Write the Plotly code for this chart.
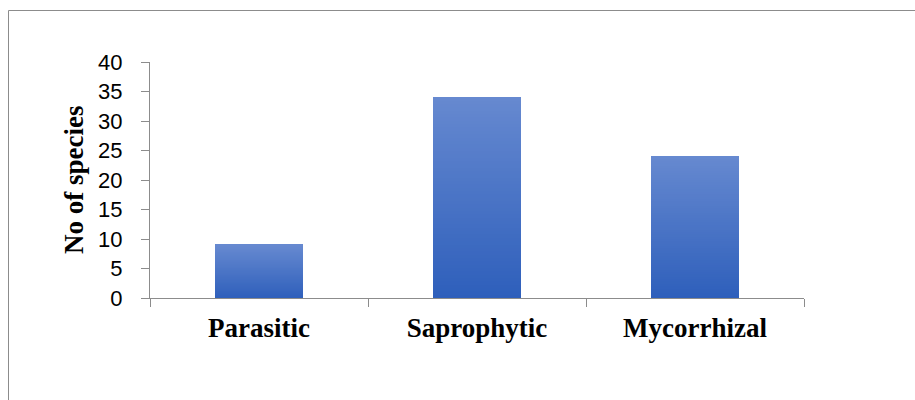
import plotly.graph_objects as go

# Data
categories = ["Parasitic", "Saprophytic", "Mycorrhizal"]
species_counts = [9, 34, 24]
y_tick_values = [0, 5, 10, 15, 20, 25, 30, 35, 40]

W, H = 915, 400
ML, MR, MT, MB = 150, 111, 62, 102
PW, PH = W - ML - MR, H - MT - MB

# vertical gradient: light top -> darker bottom, built from thin stacked slices
TOP = (0x66, 0x89, 0xD0)
BOT = (0x2E, 0x5F, 0xBB)
N = 60


def mix(t):
    r = tuple(round(BOT[k] + (TOP[k] - BOT[k]) * t) for k in range(3))
    return "rgb(%d,%d,%d)" % r


fig = go.Figure()
for i in range(N):
    fig.add_trace(go.Bar(
        x=categories,
        y=[v / N for v in species_counts],
        base=[v * i / N for v in species_counts],
        marker=dict(color=mix((i + 0.5) / N), line=dict(width=0)),
        width=0.404,
        showlegend=False,
        hoverinfo="skip",
    ))


def px_x(px):
    return (px - ML) / PW


def px_y(py):
    return (H - MB - py) / PH


# outer chart frame (continues past the right and bottom edges)
fig.add_shape(type="rect", xref="paper", yref="paper",
              x0=px_x(8.5), x1=px_x(940), y0=px_y(10.5), y1=px_y(430),
              line=dict(color="#8c8c8c", width=1), fillcolor="rgba(0,0,0,0)",
              layer="below")

fig.add_annotation(text="<b>No of species</b>", xref="paper", yref="paper",
                   x=px_x(74), y=0.5, xanchor="center", yanchor="middle",
                   textangle=-90, showarrow=False,
                   font=dict(family="Liberation Serif", size=27, color="black"))

fig.update_layout(
    width=W, height=H,
    margin=dict(l=ML, r=MR, t=MT, b=MB),
    paper_bgcolor="white", plot_bgcolor="white",
    barmode="overlay",
    bargap=0,
    xaxis=dict(
        showline=True, linecolor="#8c8c8c", linewidth=1,
        ticks="outside", ticklen=8, tickcolor="#8c8c8c", tickson="boundaries",
        showgrid=False, zeroline=False,
        tickfont=dict(family="Liberation Serif", size=27, color="black"),
        ticklabelstandoff=6,
        tickvals=categories, ticktext=["<b>%s</b>" % c for c in categories],
    ),
    yaxis=dict(
        range=[0, 40], tickvals=y_tick_values,
        showline=True, linecolor="#8c8c8c", linewidth=1,
        ticks="outside", ticklen=8, tickcolor="#8c8c8c",
        showgrid=False, zeroline=False,
        tickfont=dict(family="Liberation Sans", size=22, color="black"),
        ticklabelstandoff=14,
    ),
)

fig.write_html("out.html")
